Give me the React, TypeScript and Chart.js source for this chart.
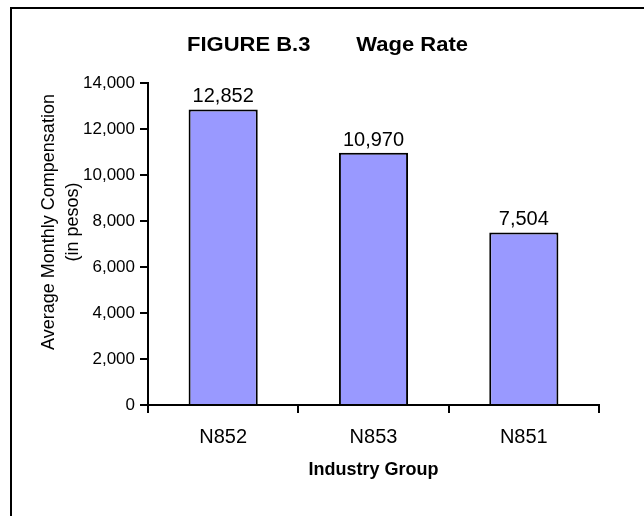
import React, { useEffect, useRef } from "react";
import { Chart, registerables } from "chart.js";

Chart.register(...registerables);

const categories = ["N852", "N853", "N851"];
const wageValues = [12852, 10970, 7504];
const yMin = 0;
const yMax = 14000;
const yStep = 2000;
const titleParts = ["FIGURE B.3", "Wage Rate"];
const xTitle = "Industry Group";
const yTitleLines = ["Average Monthly Compensation", "(in pesos)"];

const FONT = "'Liberation Sans', Arial, sans-serif";

const decorPlugin = {
  id: "decor",
  beforeDraw(chart: any) {
    const ctx = chart.ctx;
    ctx.save();
    ctx.fillStyle = "#ffffff";
    ctx.fillRect(0, 0, chart.width, chart.height);
    ctx.fillStyle = "#000000";
    ctx.fillRect(10, 7, chart.width, 2);
    ctx.fillRect(10, 7, 2, chart.height);
    ctx.restore();
  },
  afterDraw(chart: any) {
    const ctx = chart.ctx;
    const area = chart.chartArea;
    ctx.save();
    ctx.fillStyle = "#000000";
    ctx.textBaseline = "middle";
    // title, slightly wide lettering as in the original
    ctx.save();
    ctx.font = `bold 20px ${FONT}`;
    ctx.scale(1.1, 1);
    ctx.textAlign = "left";
    ctx.fillText(titleParts[0], 187 / 1.1, 45);
    ctx.textAlign = "right";
    ctx.fillText(titleParts[1], 468 / 1.1, 45);
    ctx.restore();
    ctx.textAlign = "center";
    ctx.font = `bold 18px ${FONT}`;
    ctx.fillText(xTitle, (area.left + area.right) / 2, 470);
    ctx.font = `18px ${FONT}`;
    ctx.translate(0, 222);
    ctx.rotate(-Math.PI / 2);
    ctx.fillText(yTitleLines[0], 0, 49);
    ctx.fillText(yTitleLines[1], 0, 73);
    ctx.restore();
  },
  afterDatasetsDraw(chart: any) {
    const ctx = chart.ctx;
    const meta = chart.getDatasetMeta(0);
    const data = chart.data.datasets[0].data;
    ctx.save();
    ctx.fillStyle = "#000000";
    ctx.textAlign = "center";
    ctx.textBaseline = "alphabetic";
    ctx.font = `20px ${FONT}`;
    meta.data.forEach((el: any, i: number) => {
      ctx.fillText(Number(data[i]).toLocaleString("en-US"), el.x, el.y - 7);
    });
    ctx.restore();
  },
};

export default function App() {
  const canvasRef = useRef<HTMLCanvasElement | null>(null);

  useEffect(() => {
    if (!canvasRef.current) return;
    const chart = new Chart(canvasRef.current, {
      type: "bar",
      data: {
        labels: categories,
        datasets: [
          {
            data: wageValues,
            backgroundColor: "#9999FF",
            borderColor: "#000000",
            borderWidth: 2,
            categoryPercentage: 1,
            barPercentage: 0.46,
          },
        ],
      },
      options: {
        animation: false,
        responsive: false,
        maintainAspectRatio: false,
        layout: { padding: { top: 83, right: 45, left: 0, bottom: 0 } },
        plugins: {
          legend: { display: false },
          title: { display: false },
          tooltip: { enabled: false },
        },
        scales: {
          x: {
            afterFit: (scale: any) => {
              scale.height = 111;
            },
            grid: {
              offset: true,
              drawOnChartArea: false,
              drawTicks: true,
              tickLength: 8,
              color: "#000000",
              lineWidth: 2,
            },
            border: { display: true, color: "#000000", width: 2 },
            ticks: {
              color: "#000000",
              font: { family: FONT, size: 20 },
              padding: 12,
              maxRotation: 0,
            },
          },
          y: {
            min: yMin,
            max: yMax,
            afterFit: (scale: any) => {
              scale.width = 148;
            },
            grid: {
              drawOnChartArea: false,
              drawTicks: true,
              tickLength: 8,
              color: "#000000",
              lineWidth: 2,
            },
            border: { display: true, color: "#000000", width: 2 },
            ticks: {
              stepSize: yStep,
              color: "#000000",
              font: { family: FONT, size: 17 },
              padding: 5,
            },
          },
        },
      },
      plugins: [decorPlugin],
    });
    return () => chart.destroy();
  }, []);

  return (
    <div style={{ position: "absolute", left: 0, top: 0, width: 644, height: 516 }}>
      <canvas ref={canvasRef} width={644} height={516} style={{ display: "block" }} />
    </div>
  );
}
